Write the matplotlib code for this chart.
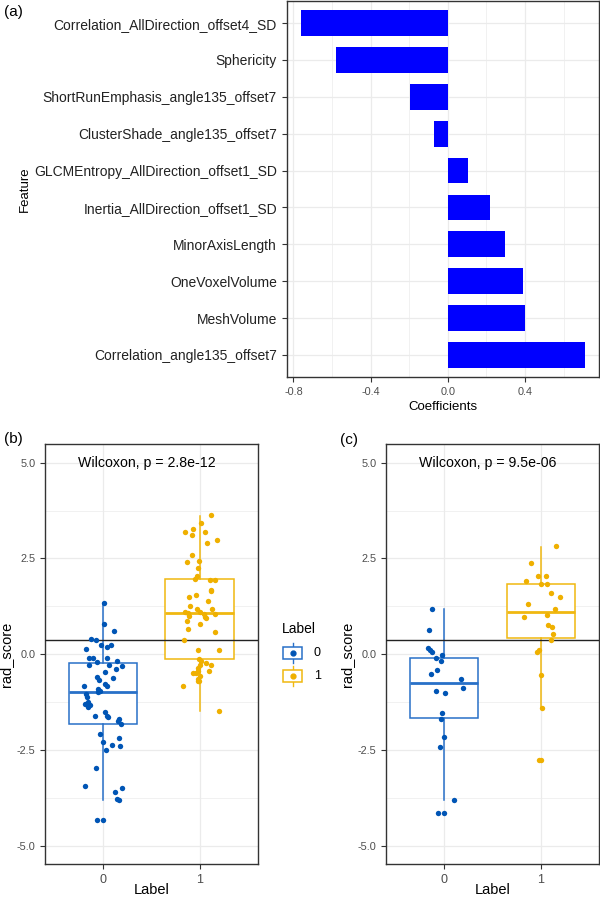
import matplotlib
matplotlib.use("Agg")
import matplotlib.pyplot as plt
from matplotlib.patches import Rectangle
from matplotlib.ticker import MultipleLocator

plt.rcParams['font.family'] = ['Liberation Sans', 'DejaVu Sans']

# ---------------- data ----------------
features = ["Correlation_AllDirection_offset4_SD", "Sphericity",
            "ShortRunEmphasis_angle135_offset7", "ClusterShade_angle135_offset7",
            "GLCMEntropy_AllDirection_offset1_SD", "Inertia_AllDirection_offset1_SD",
            "MinorAxisLength", "OneVoxelVolume", "MeshVolume",
            "Correlation_angle135_offset7"]
coefs = [-0.762, -0.582, -0.194, -0.073, 0.103, 0.220, 0.297, 0.388, 0.400, 0.709]

groups = ["0", "1"]
cutoff = 0.36

# panel (b)
b0_vals = [1.34, 0.80, 0.61, 0.39, 0.36, 0.24, 0.20, 0.24, 0.13, -0.10, -0.09, -0.11,
           -0.21, -0.27, -0.17, -0.32, -0.28, -0.39, -0.47, -0.60, -0.67, -0.63, -0.77,
           -0.82, -0.83, -0.91, -0.96, -1.00, -1.03, -1.12, -1.30, -1.24, -1.38, -1.34,
           -1.61, -1.50, -1.65, -1.62, -1.68, -1.75, -1.82, -2.08, -2.30, -2.51, -2.37,
           -2.19, -2.39, -2.96, -3.45, -3.50, -3.61, -3.78, -3.80, -4.32, -4.32]
b0_jit = [0.014, 0.010, 0.111, -0.128, -0.076, -0.017, 0.038, 0.080, -0.180, -0.142,
          -0.100, 0.042, -0.066, 0.066, 0.149, 0.201, -0.142, 0.138, 0.017, -0.059,
          -0.042, 0.107, 0.017, 0.038, -0.201, -0.048, -0.031, -0.055, -0.173, -0.170,
          -0.190, -0.159, -0.152, -0.138, -0.083, 0.024, 0.055, 0.045, 0.170, 0.152,
          0.190, -0.028, -0.003, 0.031, 0.093, 0.170, 0.176, -0.069, -0.183, 0.197,
          0.125, 0.149, 0.170, -0.059, 0.003]
b1_vals = [3.63, 3.43, 3.18, 3.26, 3.11, 3.19, 2.99, 2.91, 2.60, 2.40, 2.44, 2.25, 2.03,
           1.96, 1.93, 1.93, 1.68, 1.66, 1.50, 1.54, 1.39, 1.25, 1.19, 1.18, 1.11, 1.01,
           1.07, 1.10, 1.05, 0.94, 0.98, 1.04, 0.87, 0.80, 0.65, 0.57, 0.37, 0.11, 0.10,
           -0.13, -0.17, -0.24, -0.27, -0.28, -0.44, -0.37, -0.43, -0.50, -0.48, -0.58,
           -0.65, -0.69, -0.70, -0.84, -1.49]
b1_jit = [0.114, 0.014, -0.156, -0.073, -0.076, 0.055, 0.180, 0.076, -0.080, -0.131,
          -0.007, -0.014, -0.031, -0.045, 0.107, 0.163, 0.114, 0.118, -0.114, -0.035,
          0.083, -0.097, -0.028, 0.125, -0.156, -0.111, -0.125, 0.007, 0.042, 0.069,
          0.055, 0.163, -0.131, 0.007, -0.125, 0.156, -0.159, -0.021, 0.204, -0.007,
          0.014, 0.066, 0.118, 0.000, 0.100, -0.021, -0.014, -0.066, -0.042, 0.007,
          -0.021, -0.003, -0.017, -0.173, 0.201]
b_q1 = [-1.817, -0.13]
b_med = [-0.991, 1.07]
b_q3 = [-0.243, 1.957]
b_lo = [-3.80, -1.496]
b_hi = [1.339, 3.617]
b_label = "Wilcoxon, p = 2.8e-12"

# panel (c)
c0_vals = [1.18, 0.63, 0.15, 0.12, 0.07, -0.03, -0.10, -0.17, -0.40, -0.52, -0.64,
           -0.89, -0.96, -1.01, -1.54, -1.69, -2.17, -2.43, -3.81, -4.16, -4.16]
c0_jit = [-0.121, -0.159, -0.169, -0.148, -0.128, -0.024, -0.086, -0.031, -0.076,
          -0.138, 0.179, 0.193, -0.086, 0.010, -0.017, -0.034, -0.003, -0.038, 0.107,
          -0.062, 0.000]
c1_vals = [2.82, 2.37, 2.05, 2.03, 1.92, 1.83, 1.83, 1.59, 1.50, 1.32, 1.19, 1.02,
           0.98, 0.77, 0.72, 0.52, 0.38, 0.11, 0.05, -0.54, -1.41, -2.77, -2.77]
c1_jit = [0.159, -0.100, -0.028, 0.055, -0.159, 0.003, 0.059, 0.107, 0.197, -0.131,
          0.148, 0.059, -0.176, 0.069, 0.117, 0.124, 0.100, -0.021, -0.038, 0.003,
          0.007, -0.024, 0.003]
c_q1 = [-1.67, 0.426]
c_med = [-0.765, 1.104]
c_q3 = [-0.087, 1.835]
c_lo = [-3.80, -1.41]
c_hi = [1.18, 2.81]
c_label = "Wilcoxon, p = 9.5e-06"

# ---------------- style ----------------
W, H = 600, 898
GRID = '#EBEBEB'
BORDER = '#333333'
TICKC = '#4D4D4D'
pt_cols = ['#0055B5', '#EFB000']
box_cols = ['#2870C8', '#F0B810']

def rect(l, t, r, b):
    return [l / W, 1 - b / H, (r - l) / W, (b - t) / H]

fig = plt.figure(figsize=(W / 100, H / 100), dpi=100)

def style_axes(ax):
    for s in ax.spines.values():
        s.set_color(BORDER)
        s.set_linewidth(1.0)
    ax.tick_params(axis='both', which='major', color=BORDER, length=3.5,
                   width=0.8, labelcolor=TICKC, labelsize=7.8)
    ax.tick_params(axis='both', which='minor', length=0)
    ax.set_axisbelow(True)
    ax.grid(True, which='major', color=GRID, lw=0.9)
    ax.grid(True, which='minor', color=GRID, lw=0.5)

# ---------------- panel (a) ----------------
axa = fig.add_axes(rect(286.7, 1, 598.7, 377))
ypos = list(range(len(features)))
axa.barh(ypos, coefs, height=0.7, color='#0000FF', zorder=2)
axa.set_yticks(ypos)
axa.set_yticklabels(features)
axa.set_ylim(len(features) - 0.4, -0.6)
axa.set_xlim(-0.835, 0.782)
axa.xaxis.set_major_locator(MultipleLocator(0.4))
axa.xaxis.set_minor_locator(MultipleLocator(0.2))
style_axes(axa)
axa.set_xticks([-0.8, -0.4, 0.0, 0.4])
axa.set_xticklabels(['-0.8', '-0.4', '0.0', '0.4'])
axa.tick_params(axis='y', labelsize=10, labelcolor='#222222')
axa.grid(False, axis='y', which='minor')
axa.set_xlabel('Coefficients', fontsize=9.5, labelpad=3)
axa.set_ylabel('Feature', fontsize=9.5)
axa.yaxis.set_label_coords((31 - 286.7) / 312, 0.5)
fig.text(4 / W, 1 - 12 / H, '(a)', fontsize=11, va='center', ha='left')

# ---------------- box panels ----------------
def box_panel(ax, v0, j0, v1, j1, q1, med, q3, lo, hi, label):
    vals = [v0, v1]
    jits = [j0, j1]
    for i in range(2):
        st = [dict(med=med[i], q1=q1[i], q3=q3[i], whislo=lo[i], whishi=hi[i],
                   fliers=[])]
        ax.bxp(st, positions=[i], widths=0.71, showcaps=False, showfliers=False,
               patch_artist=True,
               boxprops=dict(facecolor='white', edgecolor=box_cols[i], lw=1.1),
               whiskerprops=dict(color=box_cols[i], lw=1.1),
               medianprops=dict(color=box_cols[i], lw=2.0),
               zorder=2)
        xs = [i + j for j in jits[i]]
        ax.scatter(xs, vals[i], s=15, color=pt_cols[i], linewidths=0, zorder=5)
    ax.axhline(cutoff, color='#222222', lw=1.0, zorder=4)
    ax.set_xlim(-0.6, 1.6)
    ax.set_ylim(-5.48, 5.49)
    ax.set_xticks([0, 1])
    ax.set_xticklabels(groups)
    ax.yaxis.set_major_locator(MultipleLocator(2.5))
    ax.yaxis.set_minor_locator(MultipleLocator(1.25))
    ax.set_yticks([-5, -2.5, 0, 2.5, 5])
    ax.set_yticklabels(['-5.0', '-2.5', '0.0', '2.5', '5.0'])
    style_axes(ax)
    ax.tick_params(axis='x', labelsize=9)
    ax.grid(False, axis='x', which='minor')
    ax.set_xlabel('Label', fontsize=10.5)
    ax.xaxis.set_label_coords(0.5, (864 - 883) / 420)
    ax.set_ylabel('rad_score', fontsize=10.5)
    ax.yaxis.set_label_coords((13 - 45) / 212.7, 0.5)
    ax.text(0.45, 5.0, label, fontsize=10.2, ha='center', va='center', zorder=6)

axb = fig.add_axes(rect(45, 444, 257.7, 864))
box_panel(axb, b0_vals, b0_jit, b1_vals, b1_jit, b_q1, b_med, b_q3, b_lo, b_hi, b_label)
axc = fig.add_axes(rect(386, 444, 599, 864))
box_panel(axc, c0_vals, c0_jit, c1_vals, c1_jit, c_q1, c_med, c_q3, c_lo, c_hi, c_label)
fig.text(4 / W, 1 - 439 / H, '(b)', fontsize=11, va='center', ha='left')
fig.text(340 / W, 1 - 440 / H, '(c)', fontsize=11, va='center', ha='left')

# ---------------- legend ----------------
axl = fig.add_axes(rect(276, 600, 340, 700))
axl.set_xlim(276, 340)
axl.set_ylim(700, 600)
axl.axis('off')
axl.text(281.7, 629, 'Label', fontsize=10, ha='left', va='center')
for i, (g, yc) in enumerate(zip(groups, [653, 676.5])):
    axl.plot([292.5, 292.5], [yc - 10, yc + 10], color=box_cols[i], lw=1.0)
    axl.add_patch(Rectangle((283.3, yc - 6), 18.4, 12, facecolor='white',
                            edgecolor=box_cols[i], lw=1.1, zorder=2))
    axl.plot([292.5], [yc], marker='o', ms=3.5, color=pt_cols[i], zorder=3)
    axl.text(314, yc, g, fontsize=9, ha='left', va='center')

fig.savefig('out.png', dpi=100)
